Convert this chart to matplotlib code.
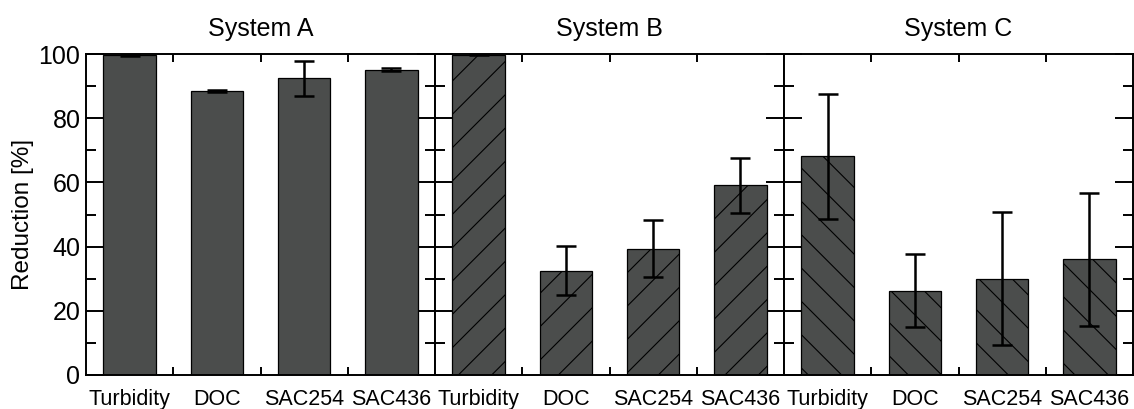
import matplotlib
matplotlib.use("Agg")
import matplotlib.pyplot as plt
from matplotlib.ticker import MultipleLocator, FixedLocator

plt.rcParams['font.family'] = ['Liberation Sans', 'DejaVu Sans']
plt.rcParams['hatch.linewidth'] = 0.8

categories = ['Turbidity', 'DOC', 'SAC254', 'SAC436']
systems = ['System A', 'System B', 'System C']
a_vals = [99.7, 88.4, 92.4, 95.1]
a_err = [0.3, 0.3, 5.4, 0.4]
b_vals = [99.8, 32.5, 39.3, 59.1]
b_err = [0.2, 7.6, 8.9, 8.6]
c_vals = [68.1, 26.3, 30.0, 36.0]
c_err = [19.4, 11.3, 20.7, 20.6]

values = [a_vals, b_vals, c_vals]
errors = [a_err, b_err, c_err]
hatches = ['', '/', '\\']

W, H = 1134, 409
fig = plt.figure(figsize=(W / 100, H / 100), dpi=100)
gs = fig.add_gridspec(1, 3, left=86 / W, right=1133 / W,
                      bottom=1 - 375 / H, top=1 - 54 / H, wspace=0)
bar_color = '#4b4d4c'
fs_x = 15.5
fs_big = 18

for i in range(3):
    ax = fig.add_subplot(gs[0, i])
    x = list(range(len(categories)))
    ax.bar(x, values[i], width=0.6, color=bar_color, edgecolor='black',
           linewidth=0.9, hatch=hatches[i], zorder=2)
    ax.errorbar(x, values[i], yerr=errors[i], fmt='none', ecolor='black',
                elinewidth=1.8, capsize=7.5, capthick=1.8, zorder=3)
    ax.set_xlim(-0.5, 3.5)
    ax.set_ylim(0, 100)
    ax.set_xticks(x)
    ax.set_xticklabels(categories, fontsize=fs_x)
    ax.xaxis.set_minor_locator(FixedLocator([0.5, 1.5, 2.5]))
    ax.tick_params(axis='x', which='major', length=0, pad=10, top=False)
    ax.tick_params(axis='x', which='minor', direction='in', length=6,
                   width=1.4, top=True, bottom=True)
    ax.yaxis.set_major_locator(MultipleLocator(20))
    ax.yaxis.set_minor_locator(MultipleLocator(10))
    ax.tick_params(axis='y', which='major', direction='in', length=13,
                   width=1.4, left=True, right=True, labelsize=fs_big, pad=4)
    ax.tick_params(axis='y', which='minor', direction='in', length=7,
                   width=1.4, left=True, right=True)
    if i > 0:
        ax.tick_params(axis='y', labelleft=False)
    else:
        ax.set_ylabel('Reduction [%]', fontsize=17.5, labelpad=3)
    for s in ax.spines.values():
        s.set_linewidth(1.4)
    ax.set_title(systems[i], fontsize=fs_big, pad=13)

fig.savefig('out.png', dpi=100)
